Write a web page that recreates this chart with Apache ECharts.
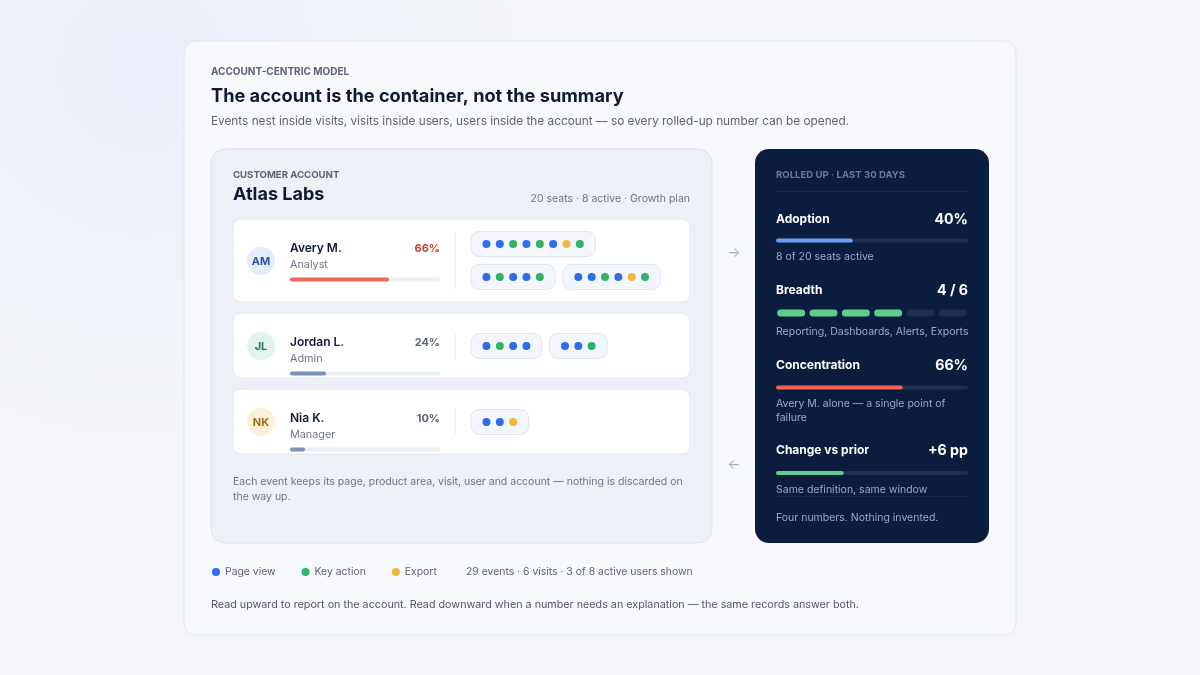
<!DOCTYPE html>
<html>
<head>
<meta charset="utf-8">
<title>Account-centric model</title>
<script src="https://cdn.jsdelivr.net/npm/echarts@6/dist/echarts.min.js"></script>
<style>
  html, body { margin: 0; padding: 0; background: #f4f6fa; }
  #chart { width: 1200px; height: 675px; }
</style>
</head>
<body>
<div id="chart"></div>
<script>
// ---- data ----
const users = ['Avery M.', 'Jordan L.', 'Nia K.'];
const roles = ['Analyst', 'Admin', 'Manager'];
const initials = ['AM', 'JL', 'NK'];
const shares = [66, 24, 10];                 // share of account events, %
// one array per visit, one code per event: v = page view, a = key action, e = export
const visits = [
  [['v','v','a','v','a','v','e','a'], ['v','a','v','v','a'], ['v','v','a','v','e','a']],
  [['v','a','v','v'], ['v','v','a']],
  [['v','v','e']]
];
const eventCodes = ['v', 'a', 'e'];
const eventTypes = ['Page view', 'Key action', 'Export'];

const seats = 20;
const seatsActive = 8;
const adoption = 40;                          // %
const areas = ['Reporting', 'Dashboards', 'Alerts', 'Exports', 'Area 5', 'Area 6'];
const areaActive = [1, 1, 1, 1, 0, 0];
const concentration = 66;                     // %
const changePP = 6;
const changeScaleMax = 17;                    // bar scale for the change metric (estimate)

// ---- styles ----
const FONT = 'Inter, "Noto Sans", sans-serif';
const eventColors = ['#2f6bed', '#2fb26a', '#f2b53f'];
const avatarFill = ['#e4edfc', '#e2f4e9', '#fdf0d9'];
const avatarInk = ['#2d54a6', '#2b7a4a', '#9c6c1c'];
const shareColors = ['#ec6a5c', '#7d93bd', '#7d93bd'];
const cardTop = [219, 313, 389];
const cardH = [83, 65, 65];
const dotRowY = [244, 346, 422];
const SMALL = 10.5;

const chart = echarts.init(document.getElementById('chart'));

function txt(x, y, text, size, weight, color, align) {
  return {
    type: 'text', z: 20, silent: true,
    style: {
      x: x, y: y + 0.8, text: text, fill: color,
      font: weight + ' ' + size + 'px ' + FONT,
      textAlign: align || 'left', textVerticalAlign: 'middle'
    }
  };
}
function box(x, y, w, h, r, fill, stroke, z) {
  return {
    type: 'rect', z: z || 1, silent: true,
    shape: { x: x, y: y, width: w, height: h, r: r },
    style: { fill: fill, stroke: stroke || null, lineWidth: stroke ? 1 : 0 }
  };
}
function hline(x1, x2, y, color) {
  return { type: 'line', z: 5, silent: true,
    shape: { x1: x1, y1: y, x2: x2, y2: y }, style: { stroke: color, lineWidth: 1 } };
}

const grids = [], xAxes = [], yAxes = [], series = [];
function addGrid(g, xa, ya) {
  grids.push(g);
  const i = grids.length - 1;
  xa.gridIndex = i; ya.gridIndex = i;
  xAxes.push(xa); yAxes.push(ya);
  return i;
}
function progress(left, top, width, h, value, max, color, track) {
  const i = addGrid({ left: left, top: top, width: width, height: h },
    { type: 'value', min: 0, max: max, show: false },
    { type: 'category', data: ['v'], show: false });
  series.push({
    type: 'bar', xAxisIndex: i, yAxisIndex: i, data: [value], barWidth: h,
    silent: true, z: 10, showBackground: true,
    backgroundStyle: { color: track, borderRadius: h / 2 },
    itemStyle: { color: color, borderRadius: h / 2 }
  });
}

// ---- static layout ----
const g = [];
g.push({
  type: 'rect', z: 0, silent: true, shape: { x: 0, y: 0, width: 1200, height: 675 },
  style: { fill: new echarts.graphic.RadialGradient(0.12, 0.1, 0.55, [
    { offset: 0, color: '#e9eef8' }, { offset: 1, color: '#f4f6fa' }]) }
});
g.push(box(184, 41, 832, 594, 12, '#f7f9fc', '#e2e7ef', 1));
g.push(txt(211, 71, 'ACCOUNT-CENTRIC MODEL', 10, 700, '#5a6477'));
g.push(txt(211, 96, 'The account is the container, not the summary', 18.2, 700, '#0e1a33'));
g.push(txt(211, 121, 'Events nest inside visits, visits inside users, users inside the account — so every rolled-up number can be opened.', 11.8, 400, '#5a6477'));

// left panel
g.push(box(211, 149, 501, 394, 14, '#edf1f7', '#dde3ec', 2));
g.push(txt(233, 174, 'CUSTOMER ACCOUNT', 9.6, 700, '#5a6477'));
g.push(txt(233, 194, 'Atlas Labs', 18, 700, '#0e1a33'));
g.push(txt(690, 198, seats + ' seats · ' + seatsActive + ' active · Growth plan', SMALL, 400, '#6b7488', 'right'));

users.forEach(function (u, k) {
  const t = cardTop[k];
  g.push(box(233, t, 457, cardH[k], 8, '#ffffff', '#e4e8ef', 3));
  const cy = k === 0 ? 261 : dotRowY[k];
  g.push({ type: 'circle', z: 4, silent: true, shape: { cx: 261, cy: cy, r: 14 }, style: { fill: avatarFill[k] } });
  g.push(txt(261, cy - 0.5, initials[k], 11, 700, avatarInk[k], 'center'));
  const ny = t + 28.5;
  g.push(txt(290, ny, u, 12, 600, '#0e1a33'));
  g.push(txt(290, ny + 16, roles[k], 10.8, 400, '#6b7488'));
  g.push(txt(440, ny, shares[k] + '%', 11, 700, k === 0 ? '#c9432e' : '#5a6477', 'right'));
  const rows = k === 0 ? 2 : 1;
  g.push({ type: 'line', z: 5, silent: true,
    shape: { x1: 455.5, y1: dotRowY[k] - 13, x2: 455.5, y2: dotRowY[k] + 13 + (rows - 1) * 33 },
    style: { stroke: '#edf0f4', lineWidth: 1 } });
  progress(290, ny + 30, 150, 4, shares[k], 100, shareColors[k], '#eceff4');
});

g.push(txt(233, 481, 'Each event keeps its page, product area, visit, user and account — nothing is discarded on', SMALL, 400, '#6b7488'));
g.push(txt(233, 496, 'the way up.', SMALL, 400, '#6b7488'));

// arrows
g.push(txt(734, 252, '→', 14, 400, '#a9b3c3', 'center'));
g.push(txt(734, 464, '←', 14, 400, '#a9b3c3', 'center'));

// right panel
g.push(box(755, 149, 234, 394, 14, '#0b1d3e', null, 2));
g.push(txt(776, 174, 'ROLLED UP · LAST 30 DAYS', 9.6, 700, '#6c7a96'));
g.push(hline(776, 968, 191.5, '#1c2d4c'));
const sub = '#96aad0';
g.push(txt(776, 218.5, 'Adoption', 12, 700, '#ffffff'));
g.push(txt(968, 218.5, adoption + '%', 14.2, 700, '#ffffff', 'right'));
progress(776, 238.5, 192, 4, adoption, 100, '#6c9cf5', '#1d2f50');
g.push(txt(776, 256, seatsActive + ' of ' + seats + ' seats active', SMALL, 400, sub));

const activeCount = areaActive.reduce(function (a, b) { return a + b; }, 0);
g.push(txt(776, 290, 'Breadth', 12, 700, '#ffffff'));
g.push(txt(968, 290, activeCount + ' / ' + areas.length, 14.2, 700, '#ffffff', 'right'));
const bi = addGrid({ left: 775, top: 309.5, width: 194, height: 7 },
  { type: 'category', data: areas, show: false },
  { type: 'value', min: 0, max: 1, show: false });
series.push({
  type: 'bar', xAxisIndex: bi, yAxisIndex: bi, barWidth: 28, silent: true, z: 10,
  data: areaActive.map(function (a) {
    return { value: 1, itemStyle: { color: a ? '#5fcb8c' : '#1d2f50', borderRadius: 3.5 } };
  })
});
g.push(txt(776, 331, areas.filter(function (a, i) { return areaActive[i]; }).join(', '), SMALL, 400, sub));

g.push(txt(776, 365, 'Concentration', 12, 700, '#ffffff'));
g.push(txt(968, 365, concentration + '%', 14.2, 700, '#ffffff', 'right'));
progress(776, 385.5, 192, 4, concentration, 100, '#ef6351', '#1d2f50');
g.push(txt(776, 403, users[0] + ' alone — a single point of', SMALL, 400, sub));
g.push(txt(776, 417, 'failure', SMALL, 400, sub));

g.push(txt(776, 450, 'Change vs prior', 12, 700, '#ffffff'));
g.push(txt(968, 450, '+' + changePP + ' pp', 14.2, 700, '#ffffff', 'right'));
progress(776, 471, 192, 4, changePP, changeScaleMax, '#5fcb8c', '#1d2f50');
g.push(txt(776, 489, 'Same definition, same window', SMALL, 400, sub));
g.push(hline(776, 968, 496.5, '#17284a'));
g.push(txt(776, 517, 'Four numbers. Nothing invented.', SMALL, 400, sub));

// footer
let totalEvents = 0, totalVisits = 0;
visits.forEach(function (vs) { totalVisits += vs.length; vs.forEach(function (v) { totalEvents += v.length; }); });
g.push(txt(466, 571, totalEvents + ' events · ' + totalVisits + ' visits · ' + users.length + ' of ' + seatsActive + ' active users shown', 10.4, 400, '#5a6477'));
g.push(txt(211, 604, 'Read upward to report on the account. Read downward when a number needs an explanation — the same records answer both.', 10.75, 400, '#4f586b'));

// ---- visits: pills and event dots, flowed in slot units (1 slot = dot pitch) ----
const PAD = 1.16, GAP = 0.57, ROW_MAX = 15;
users.forEach(function (u, k) {
  const di = addGrid({ left: 471, top: dotRowY[k], width: 200, height: 33 },
    { type: 'value', min: 0, max: ROW_MAX, show: false },
    { type: 'value', min: 0, max: 1, inverse: true, show: false });
  const pills = [];
  const dots = eventCodes.map(function () { return []; });
  let row = 0, cursor = 0;
  visits[k].forEach(function (v) {
    const w = 2 * PAD + v.length - 1;
    if (cursor > 0 && cursor + w > ROW_MAX) { row += 1; cursor = 0; }
    pills.push([cursor, row, cursor + w]);
    v.forEach(function (code, i) {
      dots[eventCodes.indexOf(code)].push([cursor + PAD + i, row]);
    });
    cursor += w + GAP;
  });
  series.push({
    type: 'custom', xAxisIndex: di, yAxisIndex: di, silent: true, z: 10, clip: false,
    encode: { x: [0, 2], y: 1 },
    data: pills,
    renderItem: function (params, api) {
      const p0 = api.coord([api.value(0), api.value(1)]);
      const p1 = api.coord([api.value(2), api.value(1)]);
      return {
        type: 'rect',
        shape: { x: p0[0], y: p0[1] - 12.5, width: p1[0] - p0[0], height: 25, r: 8 },
        style: { fill: '#f3f6fb', stroke: '#e0e6ef', lineWidth: 1 }
      };
    }
  });
  eventTypes.forEach(function (name, t) {
    series.push({
      type: 'scatter', name: name, xAxisIndex: di, yAxisIndex: di, z: 12,
      symbolSize: 8, silent: true, data: dots[t],
      itemStyle: { color: eventColors[t], opacity: 1 }
    });
  });
});

chart.setOption({
  animation: false,
  backgroundColor: '#f4f6fa',
  textStyle: { fontFamily: FONT },
  graphic: { elements: g },
  legend: {
    data: eventTypes, left: 207, top: 562, icon: 'circle',
    itemWidth: 8, itemHeight: 8, itemGap: 26,
    textStyle: { fontSize: 10.4, color: '#5a6477', fontFamily: FONT }
  },
  grid: grids,
  xAxis: xAxes,
  yAxis: yAxes,
  series: series
});
</script>
</body>
</html>
